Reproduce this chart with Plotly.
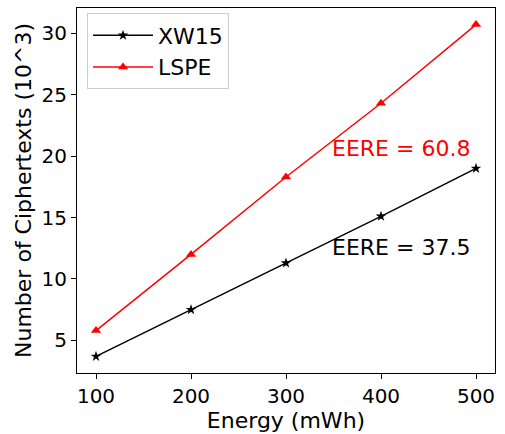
import plotly.graph_objects as go

energy = [100, 200, 300, 400, 500]
xw15 = [3.7, 7.5, 11.3, 15.1, 19.0]
lspe = [5.8, 12.0, 18.3, 24.3, 30.7]
x_ticks = [100, 200, 300, 400, 500]
y_ticks = [5, 10, 15, 20, 25, 30]
ann_x = [346, 346]
ann_y = [20.6, 12.6]
ann_text = ["EERE = 60.8", "EERE = 37.5"]
ann_color = ["red", "black"]

FONT = "DejaVu Sans"

fig = go.Figure()
fig.add_trace(go.Scatter(
    x=energy, y=xw15, mode="lines+markers", name="XW15",
    line=dict(color="black", width=1.5),
    marker=dict(symbol="star", size=8, color="black"),
))
fig.add_trace(go.Scatter(
    x=energy, y=lspe, mode="lines+markers", name="LSPE",
    line=dict(color="red", width=1.5),
    marker=dict(symbol="triangle-up", size=9, color="red"),
))

for xv, yv, t, c in zip(ann_x, ann_y, ann_text, ann_color):
    fig.add_annotation(x=xv, y=yv, xref="x", yref="y", text=t, showarrow=False,
                       xanchor="left", yanchor="middle",
                       font=dict(family=FONT, size=22, color=c))

axis_common = dict(
    showgrid=False, zeroline=False, showline=True, linecolor="black", linewidth=1,
    mirror=True, ticks="outside", ticklen=5, tickwidth=1, tickcolor="black",
    tickfont=dict(family=FONT, size=20, color="black"),
)

fig.update_layout(
    width=505, height=434,
    margin=dict(l=77, r=10, t=7, b=56),
    plot_bgcolor="white", paper_bgcolor="white",
    font=dict(family=FONT, color="black"),
    showlegend=True,
    legend=dict(
        x=0.024, y=0.985, xanchor="left", yanchor="top",
        bgcolor="rgba(255,255,255,0.8)", bordercolor="#cccccc", borderwidth=1,
        font=dict(family=FONT, size=22, color="black"),
        itemwidth=60,
    ),
    xaxis=dict(range=[80, 520], tickvals=x_ticks,
               title=dict(text="Energy (mWh)", font=dict(family=FONT, size=22), standoff=4),
               **axis_common),
    yaxis=dict(range=[2.35, 32.05], tickvals=y_ticks,
               title=dict(text="Number of Ciphertexts (10^3)", font=dict(family=FONT, size=22), standoff=3),
               **axis_common),
)

fig.write_html("out.html", config={"displayModeBar": False},
               post_script="document.body.style.margin='0';document.body.style.overflow='hidden';")
